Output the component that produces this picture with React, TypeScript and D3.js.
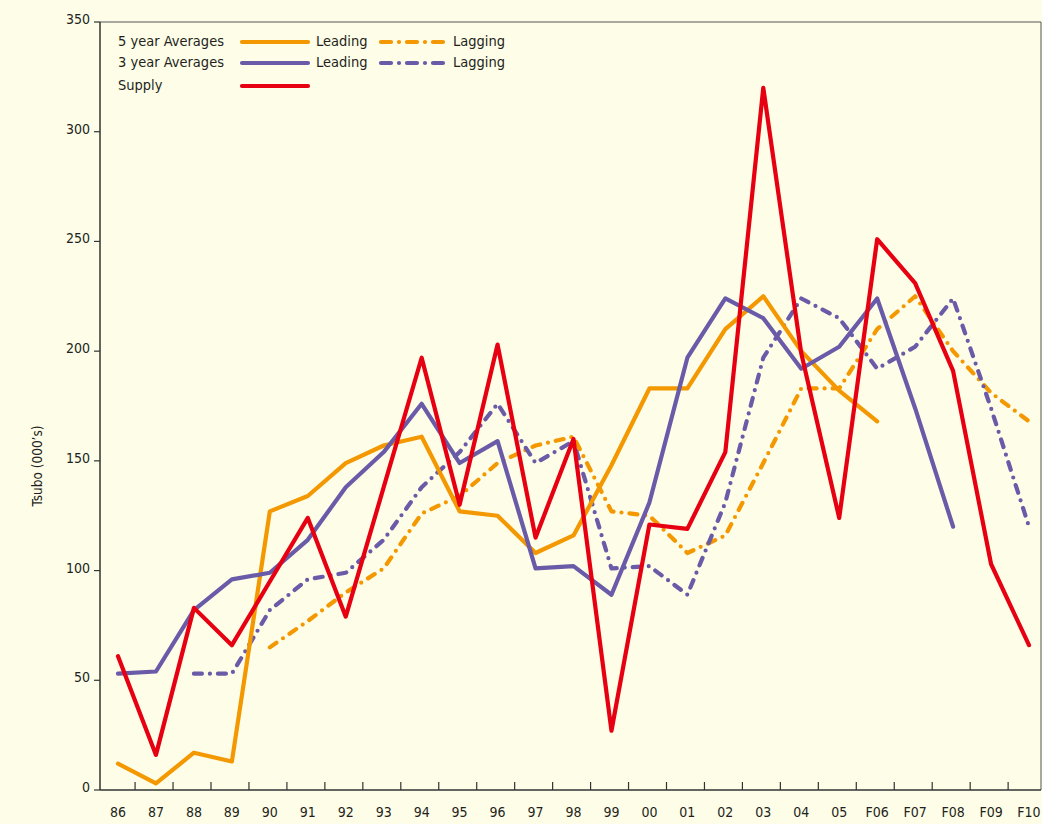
import React from "react";
import * as d3 from "d3";

const years = ["86","87","88","89","90","91","92","93","94","95","96","97","98","99","00","01","02","03","04","05","F06","F07","F08","F09","F10"];
const yTicks = [0, 50, 100, 150, 200, 250, 300, 350];

// Supply (all years 86..F10)
const supply = [61,16,83,66,95,124,79,138,197,130,203,115,160,27,121,119,154,320,199,124,251,231,191,103,66];
// 5 year averages, leading (86..F06)
const fiveLeading = [12,3,17,13,127,134,149,157,161,127,125,108,116,148,183,183,210,225,200,182,168];
const fiveLeadingStart = "86";
// 5 year averages, lagging (90..F10)
const fiveLagging = [65,77,90,101,126,134,149,157,161,127,125,108,116,149,183,183,210,225,200,181,168];
const fiveLaggingStart = "90";
// 3 year averages, leading (86..F08)
const threeLeading = [53,54,82,96,99,114,138,154,176,149,159,101,102,89,131,197,224,215,192,202,224,174,120];
const threeLeadingStart = "86";
// 3 year averages, lagging (88..F10)
const threeLagging = [53,53,82,96,99,114,138,154,176,149,159,101,102,89,131,197,224,215,192,202,224,174,120];
const threeLaggingStart = "88";

const ORANGE = "#F39800";
const PURPLE = "#6A5BA8";
const RED = "#E60012";
const BG = "#FEFDE8";
const TEXT = "#231F20";
const FONT = "'Liberation Sans Narrow', 'DejaVu Sans Condensed', 'Roboto Condensed', sans-serif";
const DASH = "8,8,0,8";

export default function App() {
  const W = 1042, H = 824;
  const right = 1041, top = 22, bottom = 790;
  const x = d3.scalePoint<string>().domain(years).range([118, 1029]);
  const step = x.step();
  const cx = (yr: string) => x(yr) as number;
  const y = d3.scaleLinear().domain([0, 350]).range([bottom, top]);

  const mk = (vals: number[], start: string) => {
    const s = years.indexOf(start);
    return vals.map((v, i) => ({ yr: years[s + i], v }));
  };
  const line = d3.line<{ yr: string; v: number }>().x(d => cx(d.yr)).y(d => y(d.v));

  const series = [
    { data: mk(fiveLagging, fiveLaggingStart), color: ORANGE, dash: DASH },
    { data: mk(threeLagging, threeLaggingStart), color: PURPLE, dash: DASH },
    { data: mk(fiveLeading, fiveLeadingStart), color: ORANGE, dash: undefined },
    { data: mk(threeLeading, threeLeadingStart), color: PURPLE, dash: undefined },
    { data: mk(supply, "86"), color: RED, dash: undefined },
  ];

  const legendRows = [
    { label: "5 year Averages", color: ORANGE, y: 42, extra: true },
    { label: "3 year Averages", color: PURPLE, y: 63, extra: true },
    { label: "Supply", color: RED, y: 86, extra: false },
  ];

  return (
    <svg width={W} height={H} style={{ position: "absolute", left: 0, top: 0, background: BG }} fontFamily={FONT}>
      <rect x={0} y={0} width={W} height={H} fill={BG} />
      {/* frame */}
      <line x1={100} x2={right} y1={top} y2={top} stroke="#555" strokeWidth={1} />
      <line x1={right} x2={right} y1={top} y2={bottom} stroke="#555" strokeWidth={1} />
      {/* y axis */}
      <line x1={100} x2={100} y1={top} y2={bottom} stroke="#333" strokeWidth={1.5} />
      {yTicks.map(t => (
        <g key={t}>
          <line x1={94} x2={100} y1={y(t)} y2={y(t)} stroke="#333" strokeWidth={1.2} />
          <text x={90} y={y(t) - 2} textAnchor="end" dominantBaseline="middle" fontSize={14} fill={TEXT}>{t}</text>
        </g>
      ))}
      <text transform={`translate(38,466) rotate(-90)`} textAnchor="middle" dominantBaseline="middle" fontSize={13.5} fill={TEXT}>Tsubo (000’s)</text>
      {/* x axis */}
      <line x1={100} x2={right} y1={bottom} y2={bottom} stroke="#333" strokeWidth={1.5} />
      {years.slice(0, -1).map(yr => (
        <line key={"t" + yr} x1={cx(yr) + step * 0.45} x2={cx(yr) + step * 0.45} y1={bottom} y2={bottom - 8} stroke="#333" strokeWidth={1.2} />
      ))}
      {years.map(yr => (
        <text key={yr} x={cx(yr)} y={813} textAnchor="middle" dominantBaseline="middle" fontSize={14} fill={TEXT}>{yr}</text>
      ))}
      {/* series */}
      {series.map((s, i) => (
        <path key={i} d={line(s.data) || ""} fill="none" stroke={s.color} strokeWidth={4.2}
          strokeDasharray={s.dash} strokeLinecap="round" strokeLinejoin="round" />
      ))}
      {/* legend */}
      {legendRows.map(r => (
        <g key={r.label}>
          <text x={118} y={r.y} dominantBaseline="middle" fontSize={14.5} fill={TEXT}>{r.label}</text>
          <line x1={242} x2={308} y1={r.y} y2={r.y} stroke={r.color} strokeWidth={4.2} strokeLinecap="round" />
          {r.extra && (
            <>
              <text x={316} y={r.y} dominantBaseline="middle" fontSize={14.5} fill={TEXT}>Leading</text>
              <line x1={381} x2={443} y1={r.y} y2={r.y} stroke={r.color} strokeWidth={4.2} strokeLinecap="round" strokeDasharray="10,8,0,8" />
              <text x={453} y={r.y} dominantBaseline="middle" fontSize={14.5} fill={TEXT}>Lagging</text>
            </>
          )}
        </g>
      ))}
    </svg>
  );
}
